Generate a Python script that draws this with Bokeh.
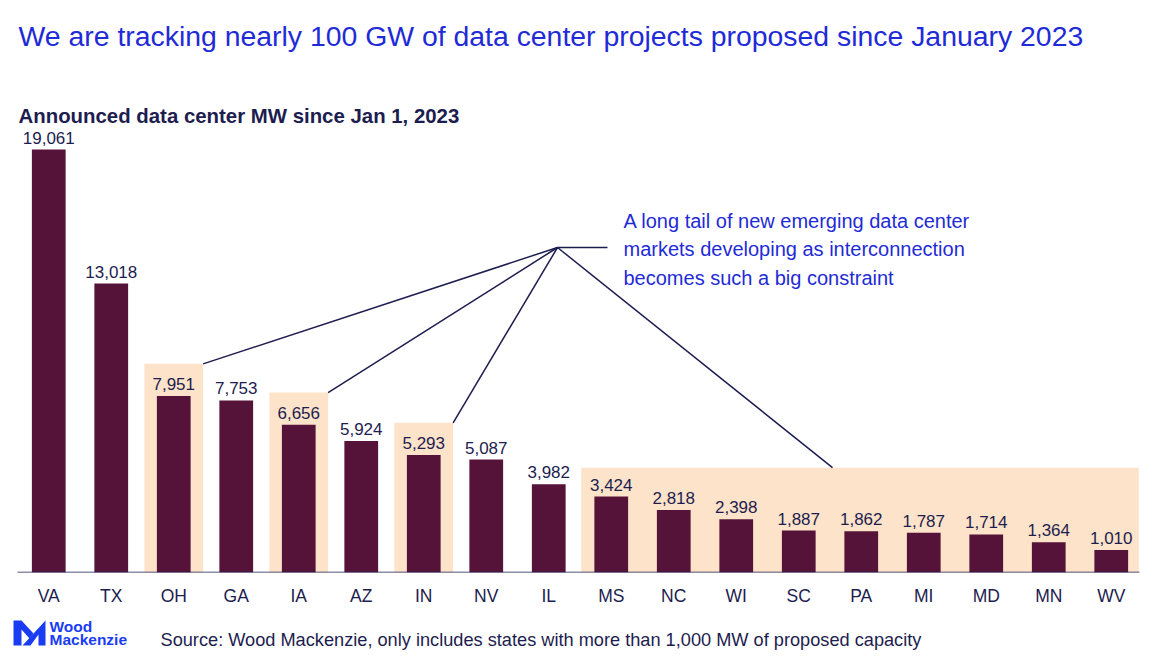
from bokeh.plotting import figure
from bokeh.layouts import column
from bokeh.models import (ColumnDataSource, Range1d, LabelSet, Label, FixedTicker)
from bokeh.core.properties import value
from bokeh.embed import file_html
from bokeh.resources import INLINE

# ---------------- data ----------------
states = ["VA", "TX", "OH", "GA", "IA", "AZ", "IN", "NV", "IL",
          "MS", "NC", "WI", "SC", "PA", "MI", "MD", "MN", "WV"]
mw = [19061, 13018, 7951, 7753, 6656, 5924, 5293, 5087, 3982,
      3424, 2818, 2398, 1887, 1862, 1787, 1714, 1364, 1010]
highlight_single = ["OH", "IA", "IN"]
highlight_tail_start = "MS"

title_text = "We are tracking nearly 100 GW of data center projects proposed since January 2023"
subtitle_text = "Announced data center MW since Jan 1, 2023"
note_lines = ["A long tail of new emerging data center",
              "markets developing as interconnection",
              "becomes such a big constraint"]
source_text = "Source: Wood Mackenzie, only includes states with more than 1,000 MW of proposed capacity"
logo_lines = ["Wood", "Mackenzie"]

# ---------------- style ----------------
FONT = "Liberation Sans"
BAR = "#561339"
PEACH = "#fde3c9"
NAVY = "#1d1d4f"
BLUE = "#1f2bd6"
LOGO_BLUE = "#1a3cf2"

W = 1152
H_MAIN = 612
H_FOOT = 39
BASE_Y = 572          # pixel row of the baseline
BOTTOM = H_MAIN - BASE_Y
STEP = 62.5           # px per category
C0 = 48.25            # px centre of first category
PX_PER_MW = 423 / 19061
FOOT_UP = 9           # footer moved up so it fits inside the page

p = figure(width=W, height=H_MAIN, output_backend="svg", toolbar_location=None,
           y_axis_type=None, min_border_left=0, min_border_right=0,
           min_border_top=0, min_border_bottom=BOTTOM)
p.title.visible = False
p.outline_line_color = None
p.grid.visible = False
p.background_fill_color = "white"
p.border_fill_color = "white"

p.x_range = Range1d(-C0 / STEP, (W - C0) / STEP)
p.y_range = Range1d(0, BASE_Y / PX_PER_MW)
# pixel helper range (canvas coordinates)
p.extra_x_ranges = {"px": Range1d(0, W)}
p.extra_y_ranges = {"px": Range1d(BASE_Y, 0)}


def dx(px):
    return (px - C0) / STEP


def dy(py):
    return (BASE_Y - py) / PX_PER_MW


idx = list(range(len(states)))
src = ColumnDataSource(dict(x=idx, top=mw, lab=[f"{v:,}" for v in mw]))

# highlight boxes
hl_x = [states.index(s) for s in highlight_single]
hl_top = [mw[i] + 1450 for i in hl_x]
p.quad(left=[i - 0.47 for i in hl_x], right=[i + 0.47 for i in hl_x],
       bottom=0, top=hl_top, fill_color=PEACH, line_color=None)
t0 = states.index(highlight_tail_start)
tail_top = max(mw[t0:]) + 1300
p.quad(left=[t0 - 0.48], right=[len(states) - 1 + 0.44], bottom=0, top=[tail_top],
       fill_color=PEACH, line_color=None)

# bars
p.vbar(x="x", top="top", width=0.54, bottom=0, source=src,
       fill_color=BAR, line_color=None)

# baseline
p.segment(x0=[-0.5], x1=[len(states) - 0.55], y0=[0], y1=[0],
          line_color=NAVY, line_width=1.6)

# value labels
p.add_layout(LabelSet(x="x", y="top", text="lab", source=src, y_offset=6,
                      text_align="center", text_baseline="bottom",
                      text_font=value(FONT), text_font_size="17px", text_color=NAVY))

# leader lines
hub_x, hub_y = dx(557), dy(247)
ends_x = [i + 0.47 for i in hl_x] + [dx(832)]
ends_y = hl_top + [tail_top]
p.segment(x0=[hub_x] * len(ends_x), y0=[hub_y] * len(ends_x), x1=ends_x, y1=ends_y,
          line_color=NAVY, line_width=1.5)
p.segment(x0=[hub_x], y0=[hub_y], x1=[dx(607)], y1=[hub_y],
          line_color=NAVY, line_width=1.5)

# x axis
ax = p.xaxis[0]
ax.ticker = FixedTicker(ticks=idx)
ax.major_label_overrides = {i: s for i, s in enumerate(states)}
ax.axis_line_color = None
ax.major_tick_line_color = None
ax.minor_tick_line_color = None
ax.major_label_standoff = 7
ax.major_label_text_font = FONT
ax.major_label_text_font_size = "17.5px"
ax.major_label_text_color = NAVY


def px_label(fig, x, y, text, size, color, style="normal"):
    fig.add_layout(Label(x=x, y=y, text=text, x_range_name="px", y_range_name="px",
                         text_baseline="middle", text_align="left", text_font=FONT,
                         text_font_size=size, text_color=color, text_font_style=style))


px_label(p, 18, 35, title_text, "28.4px", BLUE)
px_label(p, 18, 115, subtitle_text, "20.4px", NAVY, "bold")
for k, line in enumerate(note_lines):
    px_label(p, 623, 220 + 28.5 * k, line, "20px", BLUE)

# ---------------- footer ----------------
top_px, bot_px = H_MAIN + FOOT_UP, H_MAIN + H_FOOT + FOOT_UP
f = figure(width=W, height=H_FOOT, output_backend="svg", toolbar_location=None,
           x_axis_type=None, y_axis_type=None, min_border=0,
           x_range=Range1d(0, W), y_range=Range1d(bot_px, top_px))
f.title.visible = False
f.outline_line_color = None
f.grid.visible = False
f.extra_x_ranges = {"px": Range1d(0, W)}
f.extra_y_ranges = {"px": Range1d(bot_px, top_px)}

logo_xs = [[13, 21, 33, 29, 21, 21, 13], [45, 45, 38, 38, 30, 22]]
logo_ys = [[629, 629, 642, 647, 638, 654, 654], [629, 654, 654, 643, 654, 654]]
f.patches(xs=logo_xs, ys=logo_ys, fill_color=LOGO_BLUE, line_color=None)
px_label(f, 49, 635, logo_lines[0], "15.5px", LOGO_BLUE, "bold")
px_label(f, 49, 648, logo_lines[1], "15.5px", LOGO_BLUE, "bold")
px_label(f, 160, 648, source_text, "18.2px", NAVY)

layout = column(p, f, spacing=0)
open("out.html", "w").write(file_html(layout, INLINE))
